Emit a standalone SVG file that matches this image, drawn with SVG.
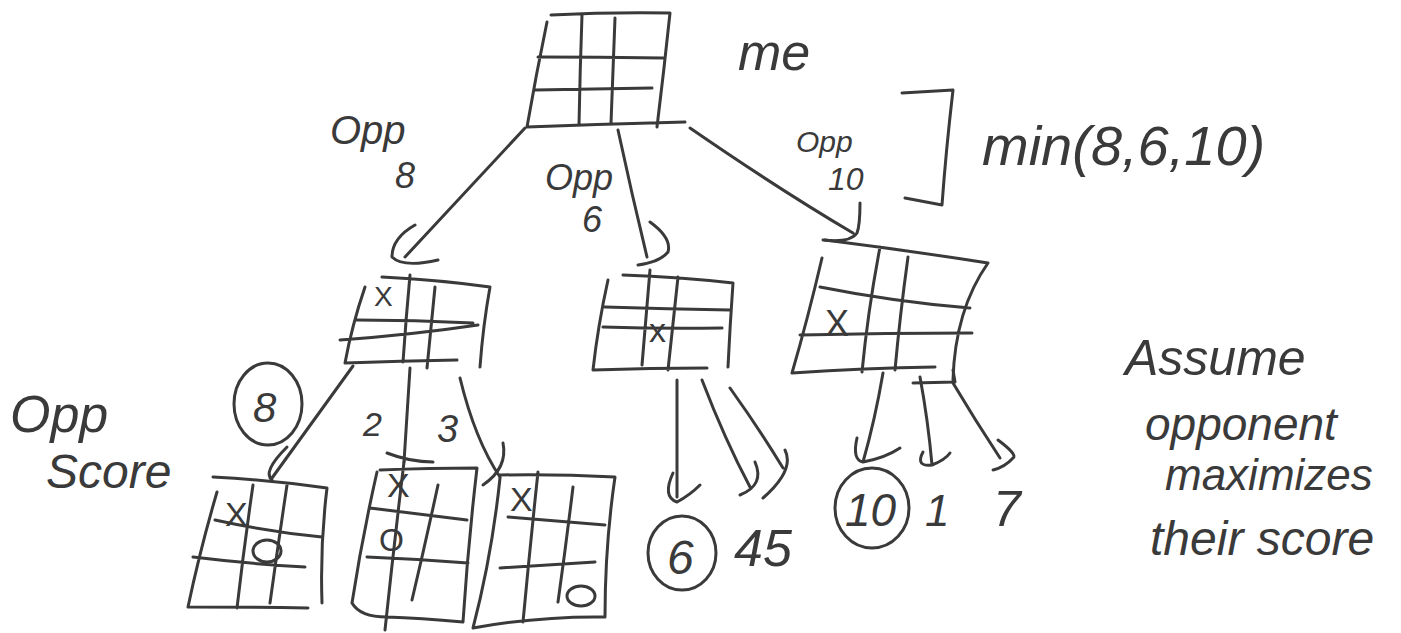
<svg xmlns="http://www.w3.org/2000/svg" width="1401" height="633" viewBox="0 0 1401 633">
<style>
.ink{fill:none;stroke:#3a3a3a;stroke-width:3;stroke-linecap:round;stroke-linejoin:round}
.t{font-family:"Liberation Sans","DejaVu Sans",sans-serif;fill:#3a3a3a;font-style:italic}
.m{font-family:"Liberation Sans","DejaVu Sans",sans-serif;fill:#3a3a3a}
</style>
<rect width="1401" height="633" fill="#ffffff"/>

<g id="root-board">
<path class="ink" d="M551,15 Q610,12 670,13 Q664,70 657,127 M547,22 Q536,75 527,127 Q606,124 685,122 M582,15 Q580,70 579,125 M615,18 Q613,70 611,123 M538,57 Q600,57 663,58 M535,90 Q593,89 652,88"/>
</g>
<text class="t" x="738" y="70" font-size="52">me</text>

<g id="node-left">
<path class="ink" d="M382,277 Q440,280 490,287 Q483,326 480,367 M365,287 Q352,325 345,363 Q400,361 457,360 M410,275 Q406,318 403,362 M435,287 Q431,327 427,368 M357,320 Q415,320 473,323 M340,340 Q410,335 478,325"/>
<text class="m" x="374" y="306" font-size="28">X</text>
</g>
<g id="node-mid">
<path class="ink" d="M623,275 Q680,277 733,283 Q730,325 728,367 M608,280 Q598,325 593,370 Q650,368 707,368 M650,270 Q646,317 642,365 M678,277 Q673,323 668,370 M605,307 Q668,309 730,310 M603,327 Q663,329 722,328"/>
<text class="m" x="649" y="342" font-size="34">x</text>
</g>
<g id="node-right">
<path class="ink" d="M825,240 Q905,250 988,263 Q955,310 953,380 M822,258 Q808,318 792,373 Q865,368 935,367 M880,247 Q868,310 862,372 M908,257 Q900,315 895,370 M820,287 Q895,302 970,308 M800,335 Q887,333 972,333"/>
<text class="m" x="825" y="336" font-size="36">X</text>
</g>

<g id="leaf-1">
<path class="ink" d="M213,477 Q270,480 327,488 Q320,545 322,603 M217,492 Q200,550 188,607 Q248,607 308,608 M253,485 Q244,547 237,608 M287,485 Q278,545 270,603 M215,520 Q270,532 322,537 M193,557 Q250,564 305,567"/>
<text class="m" x="225" y="526" font-size="34">X</text>
<ellipse class="ink" cx="267" cy="551" rx="14" ry="11"/>
</g>
<g id="leaf-2">
<path class="ink" d="M380,470 Q430,468 477,468 Q468,545 463,622 M377,472 Q362,538 352,603 Q360,617 387,617 Q420,618 463,622 M404,462 Q394,545 385,630 M438,485 Q425,545 412,600 M370,508 Q420,514 467,520 M367,557 Q417,559 468,563"/>
<text class="m" x="387" y="497" font-size="34">X</text>
<text class="m" x="379" y="551" font-size="32">O</text>
</g>
<g id="leaf-3">
<path class="ink" d="M500,475 Q557,474 615,477 Q605,545 605,617 Q540,616 473,628 Q492,555 500,478 M538,472 Q530,547 523,622 M573,487 Q566,545 558,602 M508,517 Q556,521 605,525 M500,568 Q547,565 595,562"/>
<text class="m" x="510" y="511" font-size="34">X</text>
<ellipse class="ink" cx="581" cy="596" rx="14" ry="10"/>
</g>

<g id="connectors">
<path class="ink" d="M525,128 L405,257 M415,225 Q392,238 392,257 Q403,268 438,260"/>
<path class="ink" d="M618,130 Q632,195 647,257 M650,222 Q672,238 668,252 Q660,262 638,265"/>
<path class="ink" d="M690,128 Q780,190 853,233 M860,203 Q860,225 857,233 Q850,243 823,240"/>
<path class="ink" d="M353,366 L272,478 M287,447 Q262,472 272,480"/>
<path class="ink" d="M410,368 L404,462 M387,453 Q410,462 433,462"/>
<path class="ink" d="M460,378 Q475,440 500,477 M503,443 Q508,468 483,485"/>
<path class="ink" d="M677,380 L677,497 M673,473 Q662,497 677,502 Q690,495 700,485"/>
<path class="ink" d="M702,380 Q725,440 750,487 M755,462 Q765,485 740,495"/>
<path class="ink" d="M730,388 Q760,430 783,468 M785,450 Q795,470 763,498"/>
<path class="ink" d="M883,373 Q875,420 863,462 M857,438 Q852,460 863,462 Q885,458 900,448"/>
<path class="ink" d="M920,377 Q928,420 932,465 M923,452 Q915,467 932,465 Q945,460 950,453"/>
<path class="ink" d="M953,383 Q975,420 1000,458 M998,440 Q1018,455 1013,458 Q1005,467 993,470"/>
<path class="ink" d="M913,383 L955,382 L953,370"/>
<path class="ink" d="M902,93 L953,90 Q946,150 942,205 L905,198"/>
</g>

<text class="t" x="330" y="144" font-size="40">Opp</text>
<text class="t" x="395" y="188" font-size="36">8</text>
<text class="t" x="545" y="190" font-size="36">Opp</text>
<text class="t" x="582" y="232" font-size="36">6</text>
<text class="t" x="796" y="152" font-size="30">Opp</text>
<text class="t" x="828" y="190" font-size="32">10</text>
<text class="t" x="982" y="165" font-size="56">min(8,6,10)</text>

<text class="t" x="10" y="432" font-size="52">Opp</text>
<text class="t" x="46" y="488" font-size="48">Score</text>
<ellipse class="ink" cx="268" cy="404" rx="34" ry="41"/>
<text class="t" x="253" y="422" font-size="42">8</text>
<text class="t" x="363" y="436" font-size="34">2</text>
<text class="t" x="437" y="442" font-size="38">3</text>

<ellipse class="ink" cx="682" cy="553" rx="34" ry="37"/>
<text class="t" x="667" y="574" font-size="48">6</text>
<text class="t" x="734" y="566" font-size="52">45</text>
<ellipse class="ink" cx="872" cy="508" rx="37" ry="40"/>
<text class="t" x="845" y="526" font-size="46">10</text>
<text class="t" x="925" y="526" font-size="44">1</text>
<text class="t" x="993" y="526" font-size="50">7</text>

<text class="t" x="1125" y="375" font-size="50">Assume</text>
<text class="t" x="1145" y="440" font-size="46">opponent</text>
<text class="t" x="1165" y="490" font-size="44">maximizes</text>
<text class="t" x="1150" y="555" font-size="48">their score</text>
</svg>
